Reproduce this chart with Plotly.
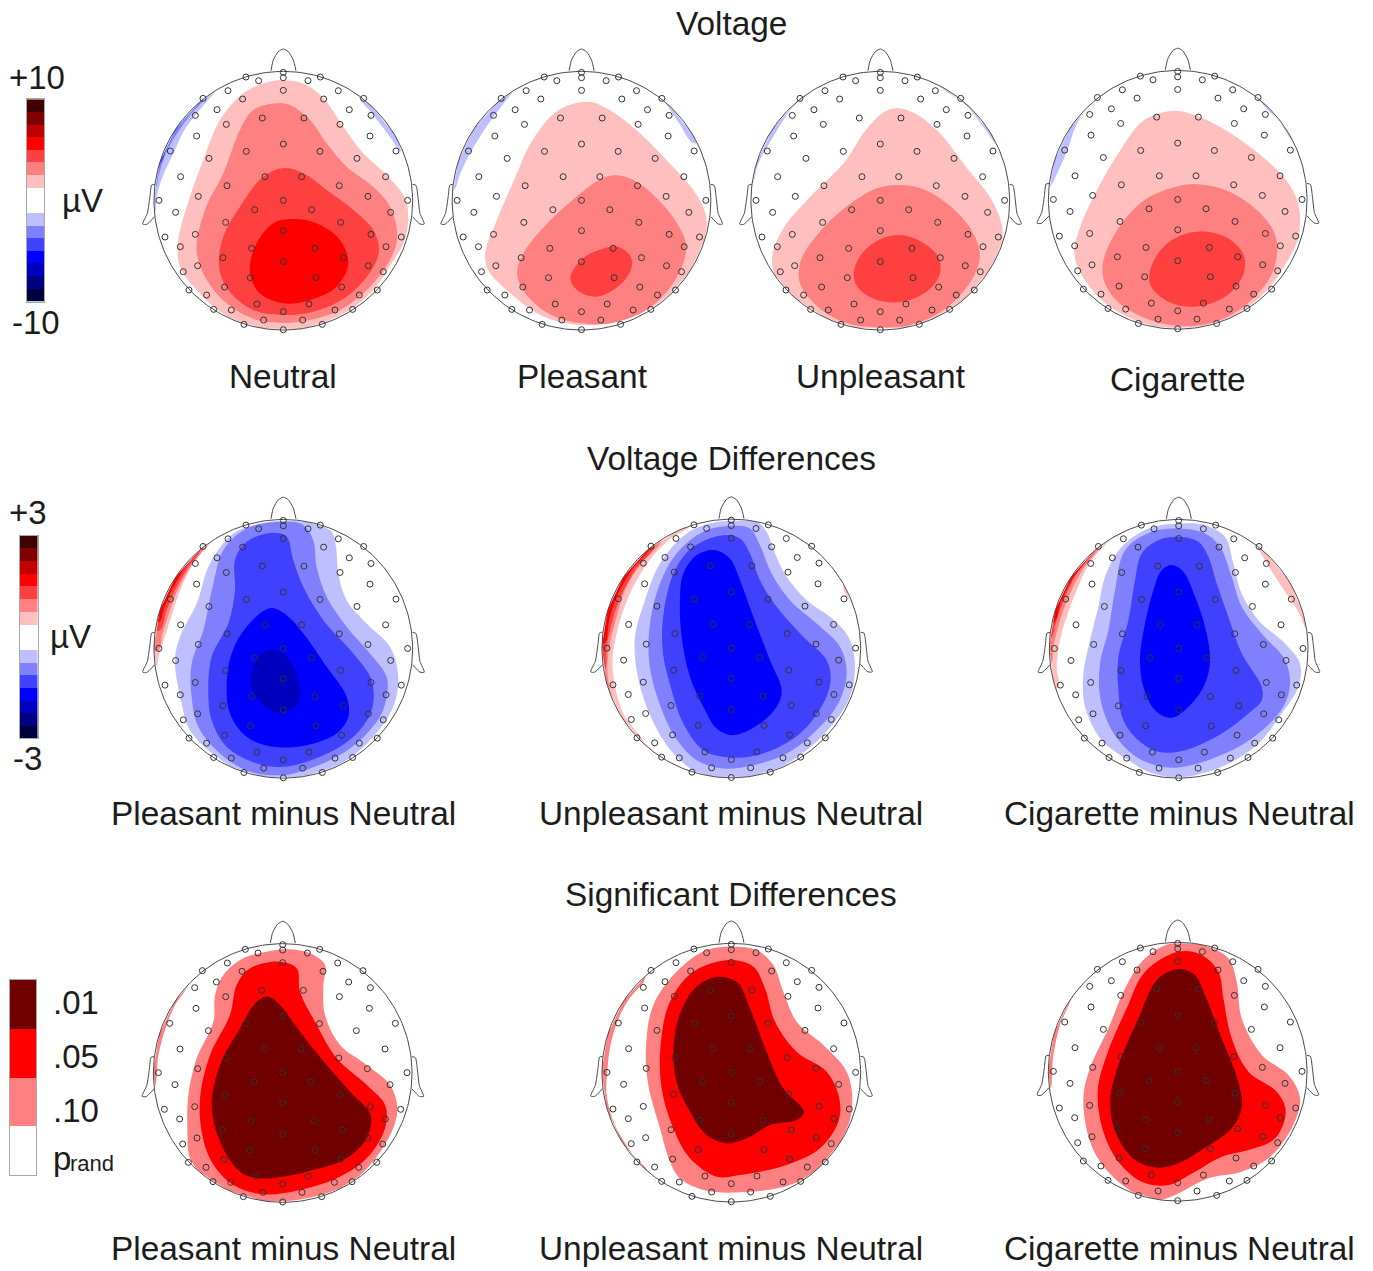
import numpy as np
import plotly.graph_objects as go

# ---- colour levels
RED = ["#FFBFBF", "#FF8080", "#FF4040", "#FF0000", "#BF0000", "#800000", "#400000"]
BLUE = ["#BFBFFF", "#8080FF", "#4040FF", "#0000FF", "#0000BF", "#000080", "#000040"]
P_COLS = ["#700000", "#FF0000", "#FF8080", "#FFFFFF"]
BAR_COLS = RED[::-1] + ["#FFFFFF", "#FFFFFF"] + BLUE

# ---- electrode sites, read from the first head (centre 430,482 in 1/3 px)
EL_X = [430,430,430,356,504,318,541,264,595,189,671,308,551,231,628,166,693,367,492,259,600,170,690,430,91,768,319,540,207,651,122,737,375,485,261,598,175,684,430,57,803,344,515,107,752,257,602,430,75,784,166,693,121,738,335,525,249,610,430,173,685,130,730,331,528,254,605,147,712,200,658,351,507,221,274,585,638,430,371,488,312,547,430]
EL_Y = [97,113,151,122,122,111,111,152,152,175,175,177,177,209,209,226,226,234,234,253,253,288,288,312,333,333,334,334,355,355,410,410,410,410,437,437,469,469,481,481,481,509,509,517,517,547,547,572,591,591,583,583,620,620,625,625,653,653,665,677,677,695,695,713,713,741,741,750,750,765,765,792,792,808,810,810,808,815,840,840,853,853,869]

# ---- contour outlines (crop coordinates, 1/3 px)
NEUTRAL_NEG_L = [(310,108),(240,145),(175,215),(130,275),(103,335),(72,400),(50,470),(44,520)]
NEUTRAL_NEG_L2 = [(195,170),(150,225),(108,285),(78,340),(55,410),(48,440)]
NEUTRAL_NEG_L3 = [(175,180),(120,250),(85,310),(60,370)]
NEUTRAL_NEG_R = [(655,165),(700,225),(750,290),(785,335)]
NEUTRAL_1 = [(430,120),(500,135),(555,180),(610,260),(670,340),(745,410),(795,475),(805,540),(790,610),(755,670),(700,750),(620,815),(510,860),(430,868),(340,860),(240,815),(170,750),(120,680),(115,600),(150,470),(190,360),(240,240),(310,160),(370,130)]
NEUTRAL_2 = [(410,190),(450,195),(510,240),(560,310),(620,380),(700,440),(750,500),(772,590),(750,660),(690,740),(600,810),(500,842),(430,848),(350,840),(260,790),(195,710),(170,630),(195,510),(250,400),(300,270),(340,210)]
NEUTRAL_3 = [(435,384),(490,400),(560,450),(640,510),(700,570),(717,630),(695,690),(620,770),(520,815),(430,825),(340,810),(265,750),(237,680),(250,590),(300,500),(370,410)]
NEUTRAL_4 = [(460,537),(530,550),(600,600),(625,670),(590,740),(510,780),(430,790),(360,760),(330,700),(345,620),(400,550)]

PLEASANT_NEG_L = [(285,107),(215,140),(150,222),(85,332),(55,400),(37,450)]
PLEASANT_NEG_R = [(530,125),(590,165),(640,240),(685,310)]
PLEASANT_1 = [(400,185),(450,205),(530,270),(620,370),(690,460),(720,540),(700,640),(640,740),(560,810),(450,850),(380,855),(280,830),(190,760),(130,690),(122,640),(150,550),(200,420),(250,300),(320,210)]
PLEASANT_2 = [(475,406),(530,425),(590,480),(640,550),(665,620),(640,710),(570,800),(480,845),(400,852),(300,825),(230,760),(208,700),(225,640),(290,550),(380,460),(430,420)]
PLEASANT_3 = [(480,620),(515,650),(515,690),(480,740),(420,770),(370,750),(352,715),(380,660),(430,630)]

UNPLEASANT_NEG_L = [(1000,150),(950,205),(900,290),(860,370),(840,440)]
UNPLEASANT_NEG_R = [(1350,135),(1420,195),(1470,265),(1510,320)]
UNPLEASANT_1 = [(1240,205),(1290,225),(1350,280),(1420,380),(1490,480),(1520,580),(1490,680),(1420,780),(1320,850),(1200,865),(1090,855),(980,800),(910,720),(897,650),(930,560),(1000,470),(1090,370),(1150,270),(1200,215)]
UNPLEASANT_2 = [(1245,435),(1310,450),(1390,510),(1440,580),(1458,650),(1430,730),(1360,810),(1270,855),(1190,862),(1100,850),(1020,800),(972,730),(975,660),(1030,570),(1110,490),(1180,445)]
UNPLEASANT_3 = [(1245,585),(1300,605),(1345,650),(1350,700),(1320,750),(1250,785),(1180,780),(1130,745),(1117,700),(1140,640),(1190,597)]

CIG_NEG_L = [(250,130),(190,180),(140,250),(115,320),(85,390),(57,440)]
CIG_NEG_R = [(690,175),(750,245),(790,300)]
CIG_1 = [(430,210),(500,225),(590,270),(700,350),(770,420),(805,490),(805,590),(760,680),(690,770),(590,835),(470,860),(350,850),(230,790),(160,710),(133,640),(150,560),(200,450),(270,330),(340,240)]
CIG_2 = [(500,430),(580,445),(660,490),(725,560),(742,620),(725,700),(650,790),(550,845),(440,855),(340,830),(260,780),(222,720),(220,660),(260,570),(340,480),(430,440)]
CIG_3 = [(520,572),(590,590),(640,640),(640,700),(590,765),(500,797),(420,785),(365,740),(358,700),(390,630),(450,585)]

DP_POS_1 = [(215,150),(165,210),(125,290),(100,360),(78,430),(58,490),(46,535)]
DP_POS_2 = [(192,170),(152,230),(115,295),(90,360),(68,430),(55,480)]
DP_POS_3 = [(180,178),(142,235),(105,300),(80,360),(60,420)]
DP_POS_4 = [(170,185),(130,240),(95,300),(72,355),(58,395)]
DP_POS_R = [(730,215),(780,290),(815,400),(822,500)]
DP_1 = [(430,92),(520,100),(575,125),(588,170),(595,250),(620,330),(680,400),(750,470),(775,560),(760,650),(700,740),(620,810),(510,855),(430,863),(330,855),(230,800),(150,720),(125,640),(105,510),(120,440),(170,340),(210,220),(280,130),(360,100)]
DP_2 = [(430,95),(490,105),(520,150),(530,230),(560,320),(620,410),(690,490),(740,560),(740,620),(720,680),(650,760),(570,810),(480,845),(430,855),(330,845),(240,790),(175,710),(155,620),(155,520),(190,420),(220,280),(250,180),(320,115)]
DP_3 = [(400,128),(440,140),(460,210),(490,290),(550,390),(640,490),(695,570),(695,660),(640,740),(540,800),(430,830),(350,820),(260,770),(215,690),(205,610),(215,500),(265,400),(285,300),(285,210),(320,155)]
DP_4 = [(390,354),(440,375),(490,430),(560,530),(620,620),(625,680),(590,730),(500,765),(400,770),(320,740),(270,670),(260,590),(275,490),(320,410)]
DP_5 = [(400,478),(440,500),(475,570),(480,620),(460,655),(410,668),(365,640),(335,590),(340,530),(365,490)]

DU_POS_1 = [(300,105),(235,150),(175,215),(130,290),(100,360),(80,430),(68,500),(72,570),(100,670),(165,765)]
DU_POS_2 = [(215,150),(150,225),(105,300),(80,380),(62,450),(52,530),(58,590),(75,650)]
DU_POS_3 = [(195,165),(135,240),(92,320),(68,390),(50,470),(44,540)]
DU_POS_4 = [(185,165),(125,240),(80,320),(58,390),(44,460)]
DU_POS_R = [(760,290),(795,360),(815,440)]
DU_1 = [(424,92),(500,95),(530,125),(555,190),(590,260),(650,330),(720,380),(775,440),(795,520),(780,620),(730,700),(650,780),(540,845),(430,862),(330,850),(270,810),(220,750),(170,650),(140,540),(135,440),(165,330),(210,220),(290,130),(360,100)]
DU_2 = [(424,107),(480,115),(510,165),(545,250),(600,330),(680,400),(750,470),(770,550),(745,640),(680,720),(590,790),(490,825),(400,835),(320,810),(255,740),(205,630),(178,520),(180,400),(210,280),(260,190),(340,125)]
DU_3 = [(400,135),(450,145),(480,190),(510,270),(560,350),(640,440),(710,510),(722,570),(700,640),(630,730),(520,790),(420,802),(340,780),(280,700),(245,600),(218,480),(222,360),(255,240),(310,170)]
DU_4 = [(375,180),(420,205),(450,270),(490,380),(540,510),(575,600),(560,650),(510,700),(430,735),(380,715),(340,650),(300,560),(275,440),(270,330),(280,250),(320,195)]

DC_POS_1 = [(290,108),(215,160),(160,225),(125,300),(95,380),(75,450),(65,530),(70,590)]
DC_POS_2 = [(195,165),(145,235),(105,310),(75,390),(55,470),(48,520)]
DC_POS_3 = [(180,175),(125,250),(90,320),(62,400),(50,440)]
DC_POS_4 = [(165,190),(110,270),(78,335),(58,395)]
DC_POS_R = [(660,150),(690,210),(740,290),(790,365),(825,440)]
DC_1 = [(431,100),(510,105),(570,140),(595,220),(620,310),(670,390),(750,460),(795,520),(790,590),(740,670),(670,760),(560,830),(430,862),(340,845),(280,810),(200,750),(150,650),(145,550),(165,450),(190,350),(210,260),(260,170),(340,115)]
DC_2 = [(431,115),(510,130),(555,170),(590,260),(620,350),(680,430),(750,510),(765,580),(745,650),(670,730),(570,790),(430,832),(350,822),(290,790),(230,720),(195,620),(195,520),(220,420),(240,300),(270,180),(350,125)]
DC_3 = [(431,140),(490,155),(520,200),(545,280),(580,380),(620,490),(680,590),(680,630),(640,670),(560,730),(450,780),(370,785),(310,750),(265,690),(250,600),(250,500),(280,390),(300,270),(320,190),(370,150)]
DC_4 = [(412,225),(445,245),(480,320),(510,410),(525,510),(510,580),(470,640),(410,683),(360,660),(325,590),(315,510),(330,400),(355,300),(380,240)]

SP_RIM = [(140,215),(105,270),(78,335),(55,420),(42,520)]
SP_1 = [(440,103),(510,115),(555,150),(550,210),(555,300),(600,390),(680,450),(750,510),(772,580),(755,650),(690,750),(620,810),(500,850),(380,860),(300,840),(190,780),(150,730),(142,640),(145,540),(170,430),(220,320),(225,240),(250,180),(310,130),(380,110)]
SP_2 = [(420,140),(470,160),(480,230),(530,330),(590,430),(680,510),(735,570),(735,640),(680,730),(590,790),(480,825),(370,838),(280,810),(215,740),(185,650),(180,550),(210,420),(270,300),(290,210),(330,160)]
SP_3 = [(385,245),(420,270),(480,350),(560,450),(630,530),(692,600),(680,670),(620,730),(500,770),(360,790),(300,770),(240,680),(215,570),(240,450),(300,340),(350,260)]

SU_RIM = [(165,190),(115,255),(80,325),(60,400),(52,470),(50,540),(75,630),(130,720),(172,768)]
SU_1 = [(424,95),(500,105),(550,150),(580,230),(620,320),(700,390),(770,470),(787,560),(765,660),(700,750),(600,810),(450,832),(340,825),(270,790),(240,740),(210,640),(175,510),(168,400),(190,270),(270,160),(350,105)]
SU_2 = [(420,135),(490,155),(525,220),(555,320),(620,410),(710,470),(748,550),(745,620),(690,700),(590,750),(450,780),(380,785),(300,730),(250,640),(215,520),(212,390),(240,260),(310,170)]
SU_3 = [(400,186),(445,205),(480,280),(530,410),(580,520),(642,590),(620,615),(540,630),(480,665),(410,685),(350,660),(300,590),(262,510),(250,420),(265,310),(310,225),(360,190)]

SC_RIM = [(105,250),(75,330),(55,420),(42,540)]
SC_1 = [(440,82),(520,95),(580,130),(605,200),(620,310),(680,420),(760,480),(795,550),(770,640),(700,730),(620,770),(520,790),(420,840),(360,857),(290,830),(210,760),(165,680),(145,550),(165,460),(220,340),(270,220),(320,140),(380,95)]
SC_2 = [(430,110),(500,120),(550,170),(565,250),(590,370),(640,470),(725,530),(752,590),(720,670),(640,705),(560,725),(480,770),(400,810),(320,800),(250,740),(205,650),(188,530),(215,420),(275,280),(330,170)]
SC_3 = [(435,162),(480,180),(510,240),(560,370),(610,500),(620,580),(590,640),(500,705),(430,745),(370,758),(300,735),(245,660),(225,570),(240,480),(310,310),(370,190)]

NOSE = [(-37,-390),(-30,-422),(-15,-447),(0,-455),(15,-447),(30,-422),(38,-390)]
EAR_L = [(-386,-49),(-395,-47),(-400,-12),(-408,38),(-422,70),(-410,71),(-386,48)]
EAR_R = [(388,-49),(398,-46),(405,-2),(410,38),(423,70),(410,70),(388,48)]

PINK, MID, DARK = P_COLS[2], P_COLS[1], P_COLS[0]
HEADS = [
    dict(cx=283.3, cy=200.7, ox=430, oy=482, sx=1.0,
         rims=[(BLUE[0],NEUTRAL_NEG_L),(BLUE[1],NEUTRAL_NEG_L2),(BLUE[2],NEUTRAL_NEG_L3),(BLUE[0],NEUTRAL_NEG_R)],
         fills=[(RED[0],NEUTRAL_1),(RED[1],NEUTRAL_2),(RED[2],NEUTRAL_3),(RED[3],NEUTRAL_4)]),
    dict(cx=581.5, cy=200.7, ox=382, oy=482, sx=1.111,
         rims=[(BLUE[0],PLEASANT_NEG_L),(BLUE[0],PLEASANT_NEG_R)],
         fills=[(RED[0],PLEASANT_1),(RED[1],PLEASANT_2),(RED[2],PLEASANT_3)]),
    dict(cx=880.3, cy=200.7, ox=1189, oy=482, sx=1.111,
         rims=[(BLUE[0],UNPLEASANT_NEG_L),(BLUE[0],UNPLEASANT_NEG_R)],
         fills=[(RED[0],UNPLEASANT_1),(RED[1],UNPLEASANT_2),(RED[2],UNPLEASANT_3)]),
    dict(cx=1177.7, cy=199.8, ox=443, oy=477, sx=1.0,
         rims=[(BLUE[0],CIG_NEG_L),(BLUE[0],CIG_NEG_R)],
         fills=[(RED[0],CIG_1),(RED[1],CIG_2),(RED[2],CIG_3)]),
    dict(cx=283.3, cy=648.8, ox=430, oy=476, sx=1.0,
         rims=[(RED[0],DP_POS_1),(RED[1],DP_POS_2),(RED[2],DP_POS_3),(RED[3],DP_POS_4),(RED[0],DP_POS_R)],
         fills=[(BLUE[0],DP_1),(BLUE[1],DP_2),(BLUE[2],DP_3),(BLUE[3],DP_4),(BLUE[4],DP_5)]),
    dict(cx=731.3, cy=648.5, ox=424, oy=475, sx=1.0,
         rims=[(RED[0],DU_POS_1),(RED[1],DU_POS_2),(RED[2],DU_POS_3),(RED[3],DU_POS_4),(RED[0],DU_POS_R)],
         fills=[(BLUE[0],DU_1),(BLUE[1],DU_2),(BLUE[2],DU_3),(BLUE[3],DU_4)]),
    dict(cx=1178.7, cy=648.8, ox=431, oy=476, sx=1.0,
         rims=[(RED[0],DC_POS_1),(RED[1],DC_POS_2),(RED[2],DC_POS_3),(RED[3],DC_POS_4),(RED[0],DC_POS_R)],
         fills=[(BLUE[0],DC_1),(BLUE[1],DC_2),(BLUE[2],DC_3),(BLUE[3],DC_4)]),
    dict(cx=282.7, cy=1073.0, ox=428, oy=474, sx=1.0,
         rims=[(PINK,SP_RIM)],
         fills=[(PINK,SP_1),(MID,SP_2),(DARK,SP_3)]),
    dict(cx=731.3, cy=1072.7, ox=424, oy=473, sx=1.0,
         rims=[(PINK,SU_RIM)],
         fills=[(PINK,SU_1),(MID,SU_2),(DARK,SU_3)]),
    dict(cx=1177.7, cy=1071.7, ox=428, oy=470, sx=1.0,
         rims=[(PINK,SC_RIM)],
         fills=[(PINK,SC_1),(MID,SC_2),(DARK,SC_3)]),
]

W, H = 1373, 1271
R = 388          # head radius in 1/3 px
HX, HY = 147, 156.67  # half size of a head's axes, px
FONT = "Liberation Sans"
TXT = "#1c1c1c"

fig = go.Figure()
layout = dict(
    width=W, height=H, margin=dict(l=0, r=0, t=0, b=0, pad=0),
    paper_bgcolor="white", plot_bgcolor="rgba(0,0,0,0)", showlegend=False,
    hovermode=False,
)
axis_no = [0]

def new_axes(x0, x1, y0, y1, xr, yr, frame=False):
    axis_no[0] += 1
    n = axis_no[0]
    s = "" if n == 1 else str(n)
    common = dict(showgrid=False, zeroline=False, showticklabels=False, ticks="",
                  showline=frame, linecolor="#a8a8a8", linewidth=1, mirror=frame, fixedrange=True)
    layout["xaxis" + s] = dict(domain=[x0 / W, x1 / W], range=xr, anchor="y" + s, **common)
    layout["yaxis" + s] = dict(domain=[1 - y1 / H, 1 - y0 / H], range=yr, anchor="x" + s, **common)
    return "x" + s, "y" + s

def rim_polygon(pts):
    a = np.arctan2([p[1] for p in pts], [p[0] for p in pts])
    a0, a1 = a[0], a[-1]
    d = (a0 - a1 + np.pi) % (2 * np.pi) - np.pi
    t = a1 + d * np.linspace(0, 1, 7)
    outer = [(1.06 * R * np.cos(v), 1.06 * R * np.sin(v)) for v in t]
    return list(pts) + outer

ring_t = np.linspace(0, 2 * np.pi, 241)

for h in HEADS:
    xa, ya = new_axes(h["cx"] - HX, h["cx"] + HX, h["cy"] - HY, h["cy"] + HY,
                      [-3 * HX, 3 * HX], [3 * HY, -3 * HY])
    def local(pts):
        return [((p[0] - h["ox"]) * h["sx"], p[1] - h["oy"]) for p in pts]
    def add_area(pts, col):
        pts = pts + pts[:1]
        fig.add_trace(go.Scatter(x=[p[0] for p in pts], y=[p[1] for p in pts], mode="lines",
                                 fill="toself", fillcolor=col, line=dict(width=0, shape="spline", smoothing=1.0, color=col),
                                 hoverinfo="skip", xaxis=xa, yaxis=ya))
    for col, pts in h["rims"]:
        add_area(rim_polygon(local(pts)), col)
    for col, pts in h["fills"]:
        add_area(local(pts), col)
    # white mask just outside the scalp, then the outlines
    fig.add_trace(go.Scatter(x=(R + 26) * np.cos(ring_t), y=(R + 26) * np.sin(ring_t), mode="lines",
                             line=dict(color="white", width=17.3), hoverinfo="skip", xaxis=xa, yaxis=ya))
    fig.add_trace(go.Scatter(x=R * np.cos(ring_t), y=R * np.sin(ring_t), mode="lines",
                             line=dict(color="#4a4a4a", width=1), hoverinfo="skip", xaxis=xa, yaxis=ya))
    for part in (NOSE, EAR_L, EAR_R):
        fig.add_trace(go.Scatter(x=[p[0] for p in part], y=[p[1] for p in part], mode="lines",
                                 line=dict(color="#4a4a4a", width=1, shape="spline", smoothing=0.6),
                                 hoverinfo="skip", xaxis=xa, yaxis=ya))
    fig.add_trace(go.Scatter(x=[v - 430 for v in EL_X], y=[v - 482 for v in EL_Y], mode="markers",
                             marker=dict(symbol="circle-open", size=6, color="#333333", line=dict(width=1, color="#333333")),
                             hoverinfo="skip", xaxis=xa, yaxis=ya))

def colour_bar(x0, x1, y0, y1, cols):
    n = len(cols)
    xa, ya = new_axes(x0, x1, y0, y1, [-0.5, 0.5], [n - 0.5, -0.5], frame=True)
    scale = []
    for i, c in enumerate(cols):
        scale += [[i / n, c], [(i + 1) / n, c]]
    fig.add_trace(go.Heatmap(z=[[i + 0.5] for i in range(n)], zmin=0, zmax=n,
                             colorscale=scale, showscale=False, hoverinfo="skip",
                             xaxis=xa, yaxis=ya))

colour_bar(27, 44.3, 99.3, 301.7, BAR_COLS)
colour_bar(20, 37.5, 535.7, 738.3, BAR_COLS)
colour_bar(10, 36, 980, 1175, P_COLS)

LABELS = [
    ("Voltage", 731, 23.5, 33.4), ("Voltage Differences", 731, 459, 33.4), ("Significant Differences", 731, 894, 33.4),
    ("Neutral", 283, 376.5, 33.4), ("Pleasant", 582, 376.5, 33.4), ("Unpleasant", 881, 376.5, 33.4), ("Cigarette", 1178, 380, 33.4),
    ("Pleasant minus Neutral", 283, 814, 33.4), ("Unpleasant minus Neutral", 731, 814, 33.4), ("Cigarette minus Neutral", 1179, 814, 33.4),
    ("Pleasant minus Neutral", 283, 1248, 33.4), ("Unpleasant minus Neutral", 731, 1248, 33.4), ("Cigarette minus Neutral", 1179, 1248, 33.4),
    ("+10", 37, 77.5, 33), ("-10", 36, 322, 33), ("µV", 82, 200.5, 33),
    ("+3", 28, 513, 33), ("-3", 28, 758.5, 33), ("µV", 70, 636.5, 33),
    (".01", 75.5, 1002.5, 33), (".05", 75.5, 1056.5, 33), (".10", 75.5, 1110.5, 33),
    ("p", 62, 1158, 33), ("rand", 92, 1163, 22),
]
layout["annotations"] = [
    dict(text=t, x=x / W, y=1 - y / H, xref="paper", yref="paper", xanchor="center", yanchor="middle",
         showarrow=False, font=dict(family=FONT, size=s, color=TXT))
    for t, x, y, s in LABELS
]
fig.update_layout(**layout)
fig.write_html("out.html", config=dict(displayModeBar=False, responsive=False),
               post_script="document.body.style.margin='0';")
